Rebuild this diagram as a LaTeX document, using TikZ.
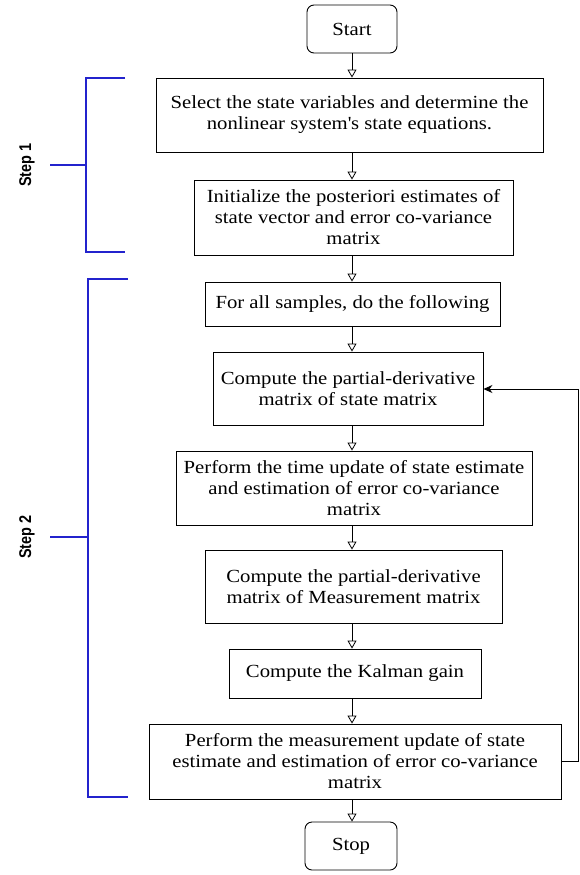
\documentclass[tikz,border=0pt]{standalone}
\usepackage{fontspec}
\setmainfont{Liberation Serif}
\newfontfamily\stepfont[FakeStretch=0.85]{Liberation Sans}
\newfontfamily\boxfont[FakeStretch=1.12]{Liberation Serif}
\usetikzlibrary{arrows.meta}
\definecolor{bracketblue}{RGB}{35,35,205}
\begin{document}
\begin{tikzpicture}[x=1pt,y=-1pt,
  box/.style={draw, line width=0.9pt, align=center, inner sep=0pt, font=\boxfont\fontsize{18.5}{21}\selectfont},
  term/.style={box, rounded corners=7pt},
  flow/.style={draw, line width=0.8pt, -{Triangle[open,length=8pt,width=9pt]}},
  back/.style={draw, line width=0.8pt, -{Stealth[length=9pt,width=8pt]}},
  brace/.style={draw=bracketblue, line width=1.6pt},
  steplabel/.style={font=\stepfont\bfseries\fontsize{17}{19}\selectfont, rotate=90}]
\useasboundingbox (0,0) rectangle (580,875);
\fill[white] (0,0) rectangle (580,875);
\node[term, minimum width=90, minimum height=48] (start) at (352,29) {Start};
\node[box, minimum width=387, minimum height=74] (b1) at (349.5,115) {Select the state variables and determine the\\nonlinear system\textquotesingle s state equations.};
\node[box, minimum width=319, minimum height=75] (b2) at (353.5,217.5) {Initialize the posteriori estimates of\\state vector and error co-variance\\matrix};
\node[box, minimum width=295, minimum height=44] (b3) at (352.5,304) {For all samples, do the following};
\node[box, minimum width=270, minimum height=73] (b4) at (348,388.5) {Compute the partial-derivative\\matrix of state matrix};
\node[box, minimum width=356, minimum height=74] (b5) at (354,488) {Perform the time update of state estimate\\and estimation of error co-variance\\matrix};
\node[box, minimum width=297, minimum height=73] (b6) at (353.5,586.5) {Compute the partial-derivative\\matrix of Measurement matrix};
\node[box, minimum width=252, minimum height=49] (b7) at (355,673.5) {Compute the Kalman gain};
\node[box, minimum width=412, minimum height=75] (b8) at (355,761.5) {Perform the measurement update of state\\estimate and estimation of error co-variance\\matrix};
\node[term, minimum width=92, minimum height=48] (stop) at (351,846) {Stop};
\path[flow] (start) -- (start|-b1.north);
\path[flow] (b1.south-|start) -- (start|-b2.north);
\path[flow] (b2.south-|start) -- (start|-b3.north);
\path[flow] (b3.south-|start) -- (start|-b4.north);
\path[flow] (b4.south-|start) -- (start|-b5.north);
\path[flow] (b5.south-|start) -- (start|-b6.north);
\path[flow] (b6.south-|start) -- (start|-b7.north);
\path[flow] (b7.south-|start) -- (start|-b8.north);
\path[flow] (b8.south-|start) -- (start|-stop.north);
\coordinate (fbR) at (578,761.5);
\coordinate (fbT) at (578,389);
\path[back] (b8.east) -- (fbR) -- (fbT) -- (b4.east|-fbT);
% Step 1 bracket
\coordinate (s1t) at (86,78);
\coordinate (s1b) at (86,252);
\coordinate (s1m) at (86,165);
\draw[brace] (125,78) -- (s1t) -- (s1b) -- (125,252);
\draw[brace] (s1m) -- (50,165);
\node[steplabel] (st1) at (27,165) {Step 1};
% Step 2 bracket
\coordinate (s2t) at (88,279);
\coordinate (s2b) at (88,797);
\coordinate (s2m) at (88,537);
\draw[brace] (128,279) -- (s2t) -- (s2b) -- (128,797);
\draw[brace] (s2m) -- (50,537);
\node[steplabel] (st2) at (27,537) {Step 2};
\end{tikzpicture}
\end{document}
